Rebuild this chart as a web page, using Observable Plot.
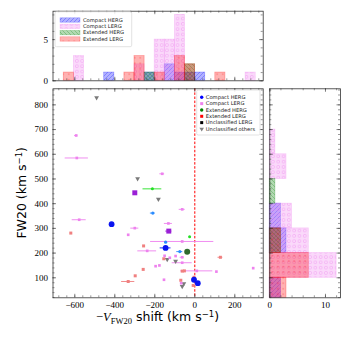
<!DOCTYPE html>
<html><head><meta charset="utf-8">
<script src="https://cdn.jsdelivr.net/npm/d3@7"></script>
<script src="https://cdn.jsdelivr.net/npm/@observablehq/plot@0.6"></script>
<style>
body{margin:0;background:#fff;}
#wrap{position:relative;width:350px;height:350px;overflow:hidden;}
#wrap svg{position:absolute;left:0;top:0;}
</style></head><body><div id="wrap"></div>
<script>
// ---------------- data ----------------
const categories = ["Compact HERG","Compact LERG","Extended HERG","Extended LERG","Unclassified LERG","Unclassified others"];
// scatter points: shift (km/s), FW20 (km/s), x error, category, highlighted flag
const shift = [-593,-590,-163,-63,-578,-132,-300,-333,-238,-63,-151,-125,-177,-196,-154,-96,-63,-63,108,292,10,-68,-300,-130,
  -416,-146,-4,15,-210,-146,-75,
  -212,-26,-38,
  -620,-256,-155,-258,-298,-333,128,-63,-52,-4,-8,-70,
  -491,-286,-182,-138,-55,-63,-96];
const fw20 = [676,585,521,377,335,320,301,274,209,247,189,181,150,147,92,188,183,161,125,139,128,78,444,289,
  317,221,92,78,362,244,206,
  460,266,205,
  281,229,177,134,108,85,183,127,128,102,69,90,
  829,501,418,174,76,65,167];
const shiftErr = [8,58,12,15,35,20,20,0,47,158,0,0,0,0,0,0,10,50,0,0,80,0,0,15,
  0,27,0,0,12,0,15,
  47,0,0,
  0,0,0,0,0,33,12,0,0,0,0,0,
  0,0,0,0,0,0,0];
const group = [1,1,1,1,1,1,1,1,1,1,1,1,1,1,1,1,1,1,1,1,1,1,1,1,
  0,0,0,0,0,0,0,
  2,2,2,
  3,3,3,3,3,3,3,3,3,3,3,3,
  5,5,5,5,5,5,5];
const highlighted = [0,0,0,0,0,0,0,0,0,0,0,0,0,0,0,0,0,0,0,0,0,0,1,1,
  1,1,1,1,0,0,0,
  0,0,1,
  0,0,0,0,0,0,0,0,0,0,0,0,
  0,0,0,0,0,0,0];

// histogram of shift (top panel)
const shiftBinEdges = [-655,-604.5,-554,-503.5,-453,-402.5,-352,-301.5,-251,-200.5,-150,-99.5,-49,1.5,52,102.5,153,203.5,254,304.5];
const topCompactHERG   = [0,0,0,0,1,0,0,0,1,0,2,1,1,1,0,0,0,0,0];
const topCompactLERG   = [0,3,0,0,0,0,0,2,0,5,5,8,0,0,0,0,0,0,1];
const topExtendedHERG  = [0,0,0,0,0,0,0,0,1,0,0,0,2,0,0,0,0,0,0];
const topExtendedLERG  = [1,0,0,0,0,0,1,3,0,1,0,3,2,0,0,1,0,0,0];
// histogram of FW20 (right panel)
const fwBinEdges = [0,100,200,300,400,500,600,700];
const rightCompactHERG  = [2,0,3,2,0,0,0];
const rightCompactLERG  = [2,12,7,4,0,3,1];
const rightExtendedHERG = [0,0,2,0,1,0,0];
const rightExtendedLERG = [3,7,2,0,0,0,0];

// ticks
const xMajor = [-600,-400,-200,0,200];
const yMajor = [100,200,300,400,500,600,700,800];
const topCountMajor = [0,5];
const rightCountMajor = [0,10];

// ---------------- layout ----------------
const W = 350, H = 350;
const fMain = {l:52.5, r:262.7, t:88.3, b:297.3};
const fTop = {l:52.5, r:262.7, t:10.7, b:80.3};
const fRight = {l:269.3, r:340, t:88.3, b:297.3};
const xDom = [-709, 342], yDom = [19, 865];
const serif = "Liberation Serif", sans = "DejaVu Sans";
const axisCol = "#333";
const fmt = d => d < 0 ? "\u2212" + Math.abs(d) : String(d);

const wrap = document.getElementById("wrap");

// patterns
const defs = d3.select(wrap).append("svg").attr("width",0).attr("height",0).append("defs");
function pat(id, w, h, draw){ const p = defs.append("pattern").attr("id",id).attr("patternUnits","userSpaceOnUse").attr("width",w).attr("height",h); draw(p); }
pat("p-blue",4,4,p=>p.append("path").attr("d","M-1,1L1,-1M0,4L4,0M3,5L5,3").attr("stroke","blue").attr("stroke-opacity",0.45).attr("stroke-width",0.6));
pat("p-violet",5.3,5.3,p=>p.append("circle").attr("cx",2.65).attr("cy",2.65).attr("r",1.5).attr("fill","none").attr("stroke","violet").attr("stroke-opacity",0.7).attr("stroke-width",0.5));
pat("p-green",4,4,p=>p.append("path").attr("d","M-1,3L1,5M0,0L4,4M3,-1L5,1").attr("stroke","green").attr("stroke-opacity",0.45).attr("stroke-width",0.6));
pat("p-red",5.5,5.5,p=>p.append("circle").attr("cx",2.75).attr("cy",2.75).attr("r",0.6).attr("fill","red").attr("fill-opacity",0.5));

const histStyles = [
  {name:"Compact HERG", color:"blue", pat:"url(#p-blue)"},
  {name:"Compact LERG", color:"violet", pat:"url(#p-violet)"},
  {name:"Extended HERG", color:"green", pat:"url(#p-green)"},
  {name:"Extended LERG", color:"red", pat:"url(#p-red)"}
];

function inDom(arr, dom){ return arr.filter(v => v >= dom[0] && v <= dom[1]); }
function range(a,b,s){ return d3.range(a,b+1e-9,s); }

function xTickMarks(major, minor, frameH, maj=3.5, mn=2){
  return [
    Plot.tickX(minor, {x:d=>d, insetTop: frameH - mn, stroke:axisCol, strokeWidth:0.5}),
    Plot.tickX(minor, {x:d=>d, insetBottom: frameH - mn, stroke:axisCol, strokeWidth:0.5}),
    Plot.tickX(major, {x:d=>d, insetTop: frameH - maj, stroke:axisCol, strokeWidth:0.6}),
    Plot.tickX(major, {x:d=>d, insetBottom: frameH - maj, stroke:axisCol, strokeWidth:0.6})
  ];
}
function yTickMarks(major, minor, frameW, maj=3.5, mn=2){
  return [
    Plot.tickY(minor, {y:d=>d, insetRight: frameW - mn, stroke:axisCol, strokeWidth:0.5}),
    Plot.tickY(minor, {y:d=>d, insetLeft: frameW - mn, stroke:axisCol, strokeWidth:0.5}),
    Plot.tickY(major, {y:d=>d, insetRight: frameW - maj, stroke:axisCol, strokeWidth:0.6}),
    Plot.tickY(major, {y:d=>d, insetLeft: frameW - maj, stroke:axisCol, strokeWidth:0.6})
  ];
}
function base(f, opts){
  return Plot.plot({
    width: W, height: H,
    marginLeft: f.l, marginRight: W - f.r, marginTop: f.t, marginBottom: H - f.b,
    style: {background:"transparent", overflow:"visible", fontFamily: serif, fontSize:"9px"},
    ...opts
  });
}

// ---------------- main scatter ----------------
const pts = shift.map((s,i)=>({s, w:fw20[i], e:shiftErr[i], cat:categories[group[i]], hl:highlighted[i]}));
const look = {
  "Compact LERG|0":{fill:"#ee82ee", sym:"square", r:1.5},
  "Compact LERG|1":{fill:"#9a1fd6", sym:"square", r:2.8},
  "Compact HERG|0":{fill:"#2a8cff", sym:"circle", r:1.6},
  "Compact HERG|1":{fill:"#0a14f0", sym:"circle", r:2.9},
  "Extended HERG|0":{fill:"#22e022", sym:"circle", r:1.5},
  "Extended HERG|1":{fill:"#2f6a2f", sym:"circle", r:3},
  "Extended LERG|0":{fill:"#f08080", sym:"square", r:1.7},
  "Unclassified LERG|0":{fill:"#000", sym:"square", r:1.7},
  "Unclassified others|0":{fill:"#7a7a7a", sym:"triangle", r:1.8, rotate:180}
};
const order = ["Unclassified others|0","Extended LERG|0","Compact LERG|0","Compact HERG|0","Extended HERG|0","Compact LERG|1","Extended HERG|1","Compact HERG|1"];
const scatterMarks = [];
for (const key of order){
  const L = look[key];
  const sub = pts.filter(p => p.cat + "|" + p.hl === key);
  scatterMarks.push(Plot.ruleY(sub.filter(p=>p.e>0), {y:"w", x1:p=>p.s-p.e, x2:p=>p.s+p.e, stroke:L.fill, strokeWidth:1, strokeOpacity:0.9}));
}
for (const key of order){
  const L = look[key];
  const sub = pts.filter(p => p.cat + "|" + p.hl === key);
  scatterMarks.push(Plot.dot(sub, {x:"s", y:"w", symbol:L.sym, r:L.r, fill:L.fill, stroke:"none", rotate:L.rotate||0}));
}
const mainH = fMain.b - fMain.t, mainW = fMain.r - fMain.l;
const mainPlot = base(fMain, {
  x:{domain:xDom}, y:{domain:yDom},
  marks:[
    Plot.ruleX([0], {stroke:"red", strokeWidth:1, strokeDasharray:"2.5,1.6"}),
    ...scatterMarks,
    ...xTickMarks(xMajor, inDom(range(-680,340,40), xDom), mainH),
    ...yTickMarks(yMajor, inDom(range(20,860,20), yDom), mainW),
    Plot.axisX(xMajor, {anchor:"bottom", tickSize:0, tickPadding:4, tickFormat:fmt, label:null, fontFamily:serif, fontSize:9}),
    Plot.axisY(yMajor, {anchor:"left", tickSize:0, tickPadding:5, tickFormat:fmt, label:null, fontFamily:serif, fontSize:9}),
    Plot.frame({stroke:axisCol, strokeWidth:0.8})
  ]
});

// ---------------- top histogram ----------------
const topCounts = [topCompactHERG, topCompactLERG, topExtendedHERG, topExtendedLERG];
const topMarks = [];
topCounts.forEach((arr, k) => {
  const rows = arr.map((c,i)=>({x1:shiftBinEdges[i], x2:shiftBinEdges[i+1], c})).filter(d=>d.c>0);
  const S = histStyles[k];
  topMarks.push(Plot.rectY(rows, {x1:"x1", x2:"x2", y1:0, y2:"c", fill:S.color, fillOpacity:0.3, stroke:S.color, strokeOpacity:0.3, strokeWidth:0.8}));
  topMarks.push(Plot.rectY(rows, {x1:"x1", x2:"x2", y1:0, y2:"c", fill:S.pat}));
});
const topH = fTop.b - fTop.t;
const topPlot = base(fTop, {
  x:{domain:xDom, axis:null}, y:{domain:[0,8.45], axis:null},
  marks:[
    ...topMarks,
    ...xTickMarks(xMajor, inDom(range(-680,340,40), xDom), topH),
    ...yTickMarks(topCountMajor, range(0,8,1), mainW),
    Plot.axisY(topCountMajor, {anchor:"left", tickSize:0, tickPadding:5, label:null, fontFamily:serif, fontSize:9}),
    Plot.frame({stroke:axisCol, strokeWidth:0.8})
  ]
});

// ---------------- right histogram ----------------
const rightCounts = [rightCompactHERG, rightCompactLERG, rightExtendedHERG, rightExtendedLERG];
const rightMarks = [];
rightCounts.forEach((arr, k) => {
  const rows = arr.map((c,i)=>({y1:Math.max(fwBinEdges[i], yDom[0]), y2:fwBinEdges[i+1], c})).filter(d=>d.c>0);
  const S = histStyles[k];
  rightMarks.push(Plot.rectX(rows, {y1:"y1", y2:"y2", x1:0, x2:"c", fill:S.color, fillOpacity:0.3, stroke:S.color, strokeOpacity:0.3, strokeWidth:0.8}));
  rightMarks.push(Plot.rectX(rows, {y1:"y1", y2:"y2", x1:0, x2:"c", fill:S.pat}));
});
const rW = fRight.r - fRight.l;
const rightPlot = base(fRight, {
  x:{domain:[0,12.7], axis:null}, y:{domain:yDom, axis:null},
  marks:[
    ...rightMarks,
    ...xTickMarks(rightCountMajor, range(0,12,2), mainH),
    ...yTickMarks(yMajor, inDom(range(20,860,20), yDom), rW),
    Plot.axisX(rightCountMajor, {anchor:"bottom", tickSize:0, tickPadding:4, label:null, fontFamily:serif, fontSize:9}),
    Plot.frame({stroke:axisCol, strokeWidth:0.8})
  ]
});

wrap.appendChild(topPlot);
wrap.appendChild(rightPlot);
wrap.appendChild(mainPlot);

// ---------------- titles & legends ----------------
const ov = d3.select(wrap).append("svg").attr("width",W).attr("height",H);
// x label
const xl = ov.append("text").attr("x",(fMain.l+fMain.r)/2).attr("y",321).attr("text-anchor","middle").attr("font-size",12.5).attr("fill","#000");
xl.append("tspan").attr("font-family",serif).text("\u2212");
xl.append("tspan").attr("font-family",serif).attr("font-style","italic").text("V");
xl.append("tspan").attr("font-family",serif).attr("font-size",8.5).attr("dy",2.5).text("FW20");
xl.append("tspan").attr("font-family",sans).attr("dy",-2.5).text(" shift (km s");
xl.append("tspan").attr("font-family",sans).attr("font-size",8.5).attr("dy",-4.5).text("\u22121");
xl.append("tspan").attr("font-family",sans).attr("dy",4.5).text(")");
// y label
const yl = ov.append("text").attr("transform",`translate(26,${(fMain.t+fMain.b)/2}) rotate(-90)`).attr("text-anchor","middle").attr("font-size",12.5).attr("font-family",sans).attr("fill","#000");
yl.append("tspan").text("FW20 (km s");
yl.append("tspan").attr("font-size",8.5).attr("dy",-4.5).text("\u22121");
yl.append("tspan").attr("dy",4.5).text(")");

// main legend
const lg = ov.append("g").attr("font-family",sans).attr("font-size",5.2);
lg.append("rect").attr("x",196.7).attr("y",90).attr("width",63.3).attr("height",45).attr("rx",1.5).attr("fill","#fff").attr("fill-opacity",0.85).attr("stroke","#d0d0d0").attr("stroke-width",0.6);
const legItems = [
  {t:categories[0], c:"#0000ff", s:d3.symbolCircle},
  {t:categories[1], c:"#ee82ee", s:d3.symbolSquare},
  {t:categories[2], c:"#008000", s:d3.symbolCircle},
  {t:categories[3], c:"#ff0000", s:d3.symbolSquare},
  {t:categories[4], c:"#000000", s:d3.symbolSquare},
  {t:categories[5], c:"#808080", s:d3.symbolTriangle, rot:180}
];
legItems.forEach((it,i)=>{
  const y = 97.3 + i*6.33;
  lg.append("path").attr("d", d3.symbol(it.s, 9)()).attr("transform",`translate(201.7,${y}) rotate(${it.rot||0})`).attr("fill",it.c);
  lg.append("text").attr("x",205.8).attr("y",y).attr("dy","0.35em").attr("fill","#222").text(it.t);
});

// top legend
const tg = ov.append("g").attr("font-family",sans).attr("font-size",5.2);
tg.append("rect").attr("x",55).attr("y",11.7).attr("width",76.7).attr("height",35).attr("rx",1.5).attr("fill","#fff").attr("fill-opacity",0.85).attr("stroke","#d0d0d0").attr("stroke-width",0.6);
histStyles.forEach((S,i)=>{
  const y = 20 + i*6.33;
  tg.append("rect").attr("x",60).attr("y",y-2.2).attr("width",20).attr("height",4.4).attr("fill",S.color).attr("fill-opacity",0.3).attr("stroke",S.color).attr("stroke-opacity",0.3).attr("stroke-width",0.6);
  tg.append("rect").attr("x",60).attr("y",y-2.2).attr("width",20).attr("height",4.4).attr("fill",S.pat);
  tg.append("text").attr("x",83).attr("y",y).attr("dy","0.35em").attr("fill","#222").text(S.name);
});
</script></body></html>
